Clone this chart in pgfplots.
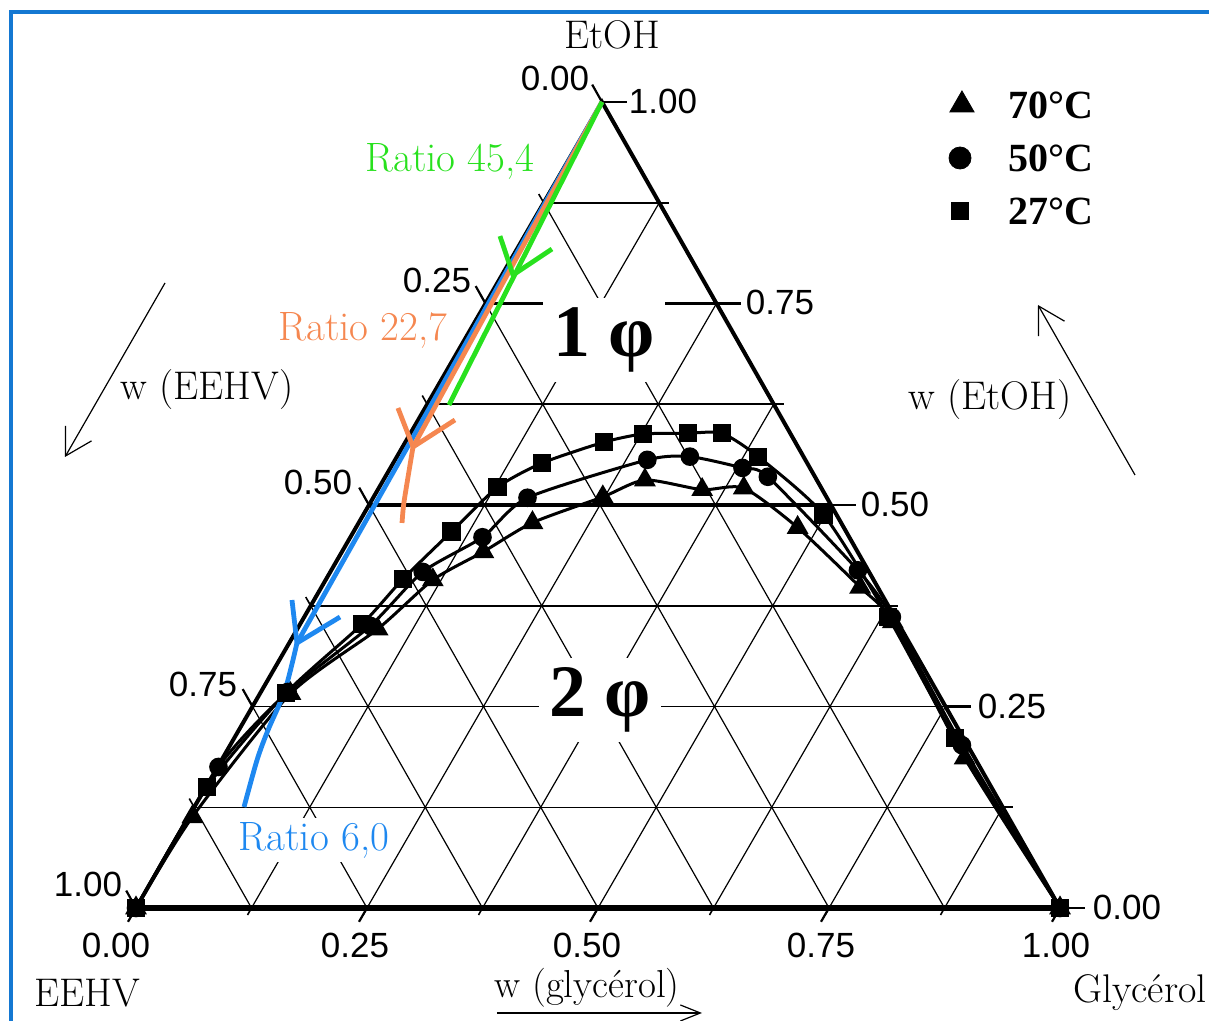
\documentclass[border=0pt]{standalone}
\usepackage{pgfplots}
\pgfplotsset{compat=1.18}
\usepackage{pgfplotstable}
\usepackage{fontspec}
\newfontfamily\sansnum{Liberation Sans}
\newfontfamily\timesf{Liberation Serif}
\usetikzlibrary{arrows.meta}
\definecolor{rgreen}{RGB}{40,225,30}
\definecolor{rorange}{RGB}{245,135,80}
\definecolor{rblue}{RGB}{30,136,240}
\definecolor{frameblue}{RGB}{20,120,210}

% ternary data: g = w(glycerol), e = w(EtOH)
\pgfplotstableread{
g e
0 0
0.001 0.150
0.028 0.267
0.067 0.352
0.083 0.408
0.106 0.467
0.128 0.522
0.161 0.552
0.215 0.578
0.252 0.588
0.300 0.589
0.337 0.589
0.391 0.560
0.498 0.488
0.632 0.361
0.780 0.211
1 0
}\tSq
\pgfplotstableread{
g e
0 0
0.001 0.175
0.029 0.268
0.077 0.350
0.100 0.417
0.143 0.460
0.167 0.509
0.273 0.556
0.317 0.560
0.381 0.546
0.414 0.535
0.570 0.419
0.636 0.361
0.792 0.202
1 0
}\tCi
\pgfplotstableread{
g e
0 0
0.004 0.113
0.033 0.266
0.087 0.346
0.116 0.407
0.153 0.442
0.188 0.478
0.248 0.510
0.283 0.531
0.351 0.519
0.395 0.521
0.478 0.472
0.583 0.398
0.640 0.355
0.803 0.186
1 0
}\tTr

\newcommand\tnode[4][]{\node[inner sep=0pt,#1] at (rel axis cs:{#2/1209},{1-#3/1021}) {#4};}
\newcommand\pline[5][]{\draw[#1] (rel axis cs:{#2/1209},{1-#3/1021}) -- (rel axis cs:{#4/1209},{1-#5/1021});}
\def\sh{0.5043}

\begin{document}
\begin{tikzpicture}
\useasboundingbox (0,0) rectangle (604.5pt,510.5pt);
\begin{axis}[at={(0,0)}, anchor=south west, scale only axis,
  width=604.5pt, height=510.5pt,
  xmin=-0.14719, xmax=1.16126, ymin=-0.14020, ymax=1.12655,
  hide axis, clip=false]

% frame
\draw[frameblue, line width=1.6pt] (rel axis cs:{11/1209},-0.1) -- (rel axis cs:{11/1209},{1-12/1021}) -- (rel axis cs:1.1,{1-12/1021});

% lattice
\pgfplotsinvokeforeach{1,...,7}{
  \draw[line width=0.6pt] (axis cs:{\sh*#1/8},{#1/8}) -- (axis cs:{1-#1/8+\sh*#1/8},{#1/8});
  \draw[line width=0.6pt] (axis cs:{#1/8},0) -- (axis cs:{#1/8+\sh*(1-#1/8)},{1-#1/8});
  \draw[line width=0.6pt] (axis cs:{1-#1/8},0) -- (axis cs:{\sh*(1-#1/8)},{1-#1/8});
  % minor ticks
  \draw[line width=0.8pt] (axis cs:{1-#1/8+\sh*#1/8},{#1/8}) -- ++(5pt,0pt);
  \draw[line width=0.8pt] (axis cs:{\sh*#1/8},{#1/8}) -- ++(-2.5pt,4.35pt);
  \draw[line width=0.8pt] (axis cs:{#1/8},0) -- ++(-2pt,-3.5pt);
}
% emphasised horizontal lines
\pgfplotsinvokeforeach{0.875,0.75,0.625,0.375}{
  \draw[line width=1.1pt] (axis cs:{\sh*#1},{#1}) -- (axis cs:{1-#1+\sh*#1},{#1});
}
\draw[line width=1.6pt] (axis cs:{\sh*0.5},0.5) -- (axis cs:{0.5+\sh*0.5},0.5);

% major ticks
\pgfplotsinvokeforeach{0,0.25,0.5,0.75,1}{
  \draw[line width=1.1pt] (axis cs:{1-#1+\sh*#1},{#1}) -- ++(12.5pt,0pt);
  \draw[line width=1.1pt] (axis cs:{\sh*#1},{#1}) -- ++(-4.9pt,8.7pt);
  \draw[line width=1.1pt] (axis cs:{#1},0) -- ++(-4pt,-6.9pt);
}

% triangle edges
\draw[line width=2pt] (axis cs:0,0) -- (axis cs:{\sh},1) -- (axis cs:1,0);
\draw[line width=3pt] (axis cs:0,0) -- (axis cs:1,0);

% phase labels
\tnode[fill=white, inner sep=5pt]{604}{340}{\timesf\bfseries\fontsize{37pt}{40pt}\selectfont 1 φ}
\tnode[fill=white, inner sep=5pt]{600}{700}{\timesf\bfseries\fontsize{37pt}{40pt}\selectfont 2 φ}
\tnode[fill=white, inner sep=2pt, text=rblue]{314}{840}{\fontsize{20.5pt}{22pt}\selectfont Ratio 6,0}
\tnode[text=rorange]{363}{330}{\fontsize{20.5pt}{22pt}\selectfont Ratio 22,7}
\tnode[text=rgreen]{450}{161}{\fontsize{20.5pt}{22pt}\selectfont Ratio 45,4}

% tick labels
\tnode{555}{78}{\sansnum\fontsize{17.5pt}{18pt}\selectfont 0.00}
\tnode{437}{280}{\sansnum\fontsize{17.5pt}{18pt}\selectfont 0.25}
\tnode{318}{482}{\sansnum\fontsize{17.5pt}{18pt}\selectfont 0.50}
\tnode{203}{684}{\sansnum\fontsize{17.5pt}{18pt}\selectfont 0.75}
\tnode{88}{884}{\sansnum\fontsize{17.5pt}{18pt}\selectfont 1.00}
\tnode{663}{101}{\sansnum\fontsize{17.5pt}{18pt}\selectfont 1.00}
\tnode{780}{302}{\sansnum\fontsize{17.5pt}{18pt}\selectfont 0.75}
\tnode{895}{504}{\sansnum\fontsize{17.5pt}{18pt}\selectfont 0.50}
\tnode{1012}{706}{\sansnum\fontsize{17.5pt}{18pt}\selectfont 0.25}
\tnode{1127}{907}{\sansnum\fontsize{17.5pt}{18pt}\selectfont 0.00}
\tnode{116}{945}{\sansnum\fontsize{17.5pt}{18pt}\selectfont 0.00}
\tnode{355}{945}{\sansnum\fontsize{17.5pt}{18pt}\selectfont 0.25}
\tnode{587}{945}{\sansnum\fontsize{17.5pt}{18pt}\selectfont 0.50}
\tnode{821}{945}{\sansnum\fontsize{17.5pt}{18pt}\selectfont 0.75}
\tnode{1056}{945}{\sansnum\fontsize{17.5pt}{18pt}\selectfont 1.00}

% component and axis labels
\tnode{612}{35}{\fontsize{20pt}{22pt}\selectfont EtOH}
\tnode{87}{993}{\fontsize{20pt}{22pt}\selectfont EEHV}
\tnode{1140}{993}{\fontsize{20pt}{22pt}\selectfont Glycérol}
\tnode{587}{988}{\fontsize{19.5pt}{21pt}\selectfont w (glycérol)}
\tnode{207}{390}{\fontsize{20pt}{22pt}\selectfont w (EEHV)}
\tnode{990}{400}{\fontsize{20pt}{22pt}\selectfont w (EtOH)}
\pline[line width=0.6pt, -{Straight Barb[length=10pt,width=8pt]}]{497}{1013}{702}{1013}
\pline[line width=0.6pt, -{Straight Barb[length=13pt,width=15pt]}]{165}{283}{65}{457}
\pline[line width=0.6pt, -{Straight Barb[length=13pt,width=15pt]}]{1135}{475}{1038}{305}

% legend
\addplot[only marks, mark=triangle*, mark size=7pt] coordinates {(0.8939,0.9963)};
\addplot[only marks, mark=*, mark size=5.5pt] coordinates {(0.8918,0.9305)};
\addplot[only marks, mark=square*, mark size=4.2pt] coordinates {(0.8918,0.8648)};
\tnode[anchor=west]{1008}{105}{\timesf\bfseries\fontsize{20pt}{22pt}\selectfont 70°C}
\tnode[anchor=west]{1008}{158}{\timesf\bfseries\fontsize{20pt}{22pt}\selectfont 50°C}
\tnode[anchor=west]{1008}{211}{\timesf\bfseries\fontsize{20pt}{22pt}\selectfont 27°C}

% binodal curves
\addplot[black, line width=1.5pt, smooth, tension=0.4, mark=triangle*, mark size=4.8pt]
  table[x expr=\thisrow{g}+\sh*\thisrow{e}, y=e] {\tTr};
\addplot[black, line width=1.5pt, smooth, tension=0.4, mark=*, mark size=3.9pt]
  table[x expr=\thisrow{g}+\sh*\thisrow{e}, y=e] {\tCi};
\addplot[black, line width=1.5pt, smooth, tension=0.4, mark=square*, mark size=3.8pt]
  table[x expr=\thisrow{g}+\sh*\thisrow{e}, y=e] {\tSq};

% ratio lines
\addplot[rblue, line width=2.4pt] coordinates {(0.5043,1.0) (0.1742,0.3288)};
\addplot[rblue, line width=2.4pt, smooth, tension=0.5] coordinates
  {(0.1742,0.3288) (0.1613,0.2705) (0.1429,0.2208) (0.1310,0.1836) (0.1169,0.1253)};
\addplot[rblue, line width=2.4pt] coordinates {(0.1688,0.3821) (0.1742,0.3288) (0.2208,0.3610)};
\addplot[rorange, line width=2.4pt] coordinates {(0.5043,1.0) (0.2998,0.5720)};
\addplot[rorange, line width=2.4pt, smooth, tension=0.5] coordinates
  {(0.2998,0.5720) (0.2930,0.5250) (0.2895,0.4990) (0.2879,0.4777)};
\addplot[rorange, line width=2.4pt] coordinates {(0.2835,0.6203) (0.2998,0.5720) (0.3452,0.6055)};
\addplot[rgreen, line width=2.4pt] coordinates {(0.5043,1.0) (0.3387,0.6241)};
\addplot[rgreen, line width=2.4pt] coordinates {(0.3939,0.8337) (0.4080,0.7854) (0.4502,0.8176)};

\end{axis}
\end{tikzpicture}
\end{document}
